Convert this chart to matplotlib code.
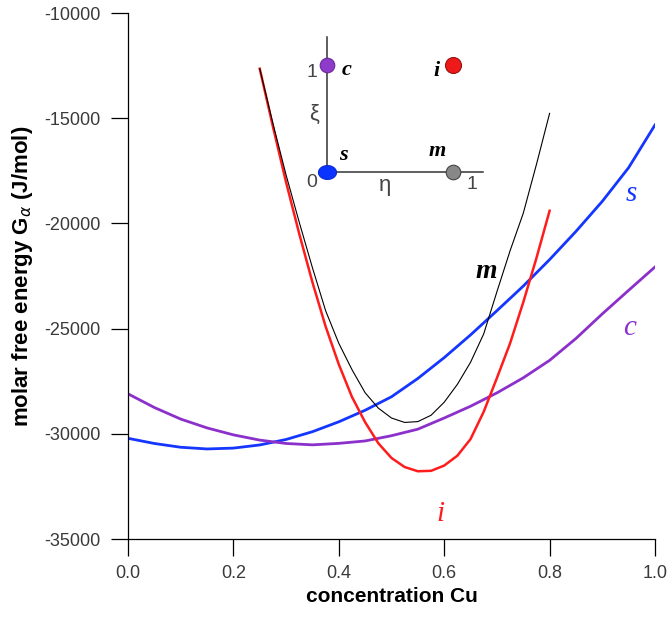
import numpy as np
import matplotlib
matplotlib.use("Agg")
import matplotlib.pyplot as plt

plt.rcParams['font.family'] = ['Liberation Sans', 'DejaVu Sans']

# free energy curves G(x) in J/mol, one per phase
x_s = [0.0, 0.05, 0.10, 0.15, 0.20, 0.25, 0.30, 0.35, 0.40, 0.45, 0.50,
       0.55, 0.60, 0.65, 0.70, 0.75, 0.80, 0.85, 0.90, 0.95, 1.00]
g_s = [-30214, -30460, -30640, -30720, -30680, -30530, -30270, -29900, -29430, -28880, -28240,
       -27370, -26380, -25300, -24150, -22980, -21720, -20380, -18950, -17350, -15320]

x_c = x_s
g_c = [-28100, -28750, -29300, -29720, -30050, -30300, -30460, -30525, -30455, -30340, -30090,
       -29780, -29250, -28690, -28056, -27340, -26510, -25470, -24300, -23180, -22070]

x_i = [0.25, 0.275, 0.30, 0.325, 0.35, 0.375, 0.40, 0.425, 0.45, 0.475, 0.50,
       0.525, 0.55, 0.575, 0.60, 0.625, 0.65, 0.675, 0.70, 0.725, 0.75, 0.775, 0.80]
g_i = [-12650, -15400, -18050, -20500, -22800, -24900, -26700, -28250, -29450, -30450, -31150,
       -31580, -31780, -31760, -31510, -31040, -30250, -28950, -27350, -25700, -23750, -21650, -19400]

x_m = x_i
g_m = [-12650, -15250, -17700, -19950, -22110, -24150, -25700, -26950, -28050, -28780, -29250,
       -29460, -29420, -29120, -28500, -27650, -26600, -25250, -23250, -21300, -19520, -17200, -14770]

# order parameter positions of the phases (eta, xi)
phases = ['s', 'c', 'm', 'i']
eta = [0, 0, 1, 1]
xi = [0, 1, 0, 1]

xticks = [0.0, 0.2, 0.4, 0.6, 0.8, 1.0]
yticks = [-35000, -30000, -25000, -20000, -15000, -10000]

BLUE = '#1436ff'
PURPLE = '#8c30cc'
RED = '#ff1c1c'

fig = plt.figure(figsize=(6.67, 6.18), dpi=100)
ax = fig.add_axes([128 / 667, 79 / 618, 527 / 667, 526 / 618])

ax.plot(x_s, g_s, color=BLUE, lw=2.0)
ax.plot(x_c, g_c, color=PURPLE, lw=2.0)
ax.plot(x_i, g_i, color=RED, lw=1.8)
ax.plot(x_m, g_m, color='black', lw=0.8)

ax.set_xlim(0, 1)
ax.set_ylim(-35000, -10000)
ax.set_xticks(xticks)
ax.set_xticklabels(['%.1f' % v for v in xticks])
ax.set_yticks(yticks)
ax.set_yticklabels([str(v) for v in yticks])
for side in ['top', 'right']:
    ax.spines[side].set_visible(False)
for side in ['left', 'bottom']:
    ax.spines[side].set_linewidth(0.9)
ax.tick_params(direction='out', length=12.5, width=0.9, labelsize=13,
               labelcolor='#3a3a3a')
ax.tick_params(axis='y', pad=7)
ax.tick_params(axis='x', pad=6)

ax.set_xlabel('concentration Cu', fontsize=15, fontweight='bold', labelpad=4)
ax.set_ylabel(r'molar free energy G$_\alpha$ (J/mol)', fontsize=16,
              fontweight='bold', labelpad=7)

# curve names
serif = ['Liberation Serif', 'DejaVu Serif']
ax.text(0.955, -18600, 's', color=BLUE, fontsize=21, style='italic', family=serif,
        ha='center', va='center')
ax.text(0.952, -24950, 'c', color=PURPLE, fontsize=21, style='italic', family=serif,
        ha='center', va='center')
ax.text(0.592, -33800, 'i', color=RED, fontsize=21, style='italic', family=serif,
        ha='center', va='center')
ax.text(0.68, -22300, 'm', color='black', fontsize=20, style='italic', weight='bold',
        family=serif, ha='center', va='center')

# inset: phases in order-parameter space
ins = fig.add_axes([288.7 / 667, (618 - 203.9) / 618, 202.8 / 667, 193.0 / 618])
ins.set_xlim(-0.3, 1.3)
ins.set_ylim(-0.3, 1.5)
ins.axis('off')
ins.patch.set_alpha(0)

ins.plot([0, 1.23], [0, 0], color='#333333', lw=1.1)
ins.plot([0, 0], [0, 1.26], color='#333333', lw=1.1)

t = np.linspace(0, 2 * np.pi, 40)
oval = list(zip(1.3 * np.cos(t), np.sin(t)))
styles = {
    's': dict(marker=oval, ms=13, mfc='#0a33ff', mec='#0a2ad0'),
    'c': dict(marker='o', ms=10.5, mfc='#8e3acb', mec='#6a2a9a'),
    'm': dict(marker='o', ms=10.5, mfc='#888888', mec='#444444'),
    'i': dict(marker='o', ms=11.5, mfc='#ee1a1a', mec='#991010'),
}
offsets = {'s': (12, 12), 'c': (14, -4), 'm': (-12, 15), 'i': (-12, -5)}
for name, e, x in zip(phases, eta, xi):
    ins.plot([e], [x], ls='none', mew=0.8, zorder=3, **styles[name])
    ins.annotate(name, (e, x), xytext=offsets[name], textcoords='offset points',
                 fontsize=16, style='italic', weight='bold', family=serif,
                 ha='center', va='center')

grey = '#444444'
ins.annotate('0', (0, 0), xytext=(-11, -8), textcoords='offset points',
             fontsize=14, color=grey, ha='center', va='center')
ins.annotate('1', (0, 1), xytext=(-11, -6), textcoords='offset points',
             fontsize=14, color=grey, ha='center', va='center')
ins.annotate('1', (1, 0), xytext=(13, -9), textcoords='offset points',
             fontsize=14, color=grey, ha='center', va='center')
ins.annotate('ξ', (0, 0.53), xytext=(-9, 0), textcoords='offset points',
             fontsize=16, color=grey, ha='center', va='center')
ins.annotate('η', (0.46, 0), xytext=(0, -10), textcoords='offset points',
             fontsize=16, color=grey, ha='center', va='center')

fig.savefig('out.png', dpi=100)
